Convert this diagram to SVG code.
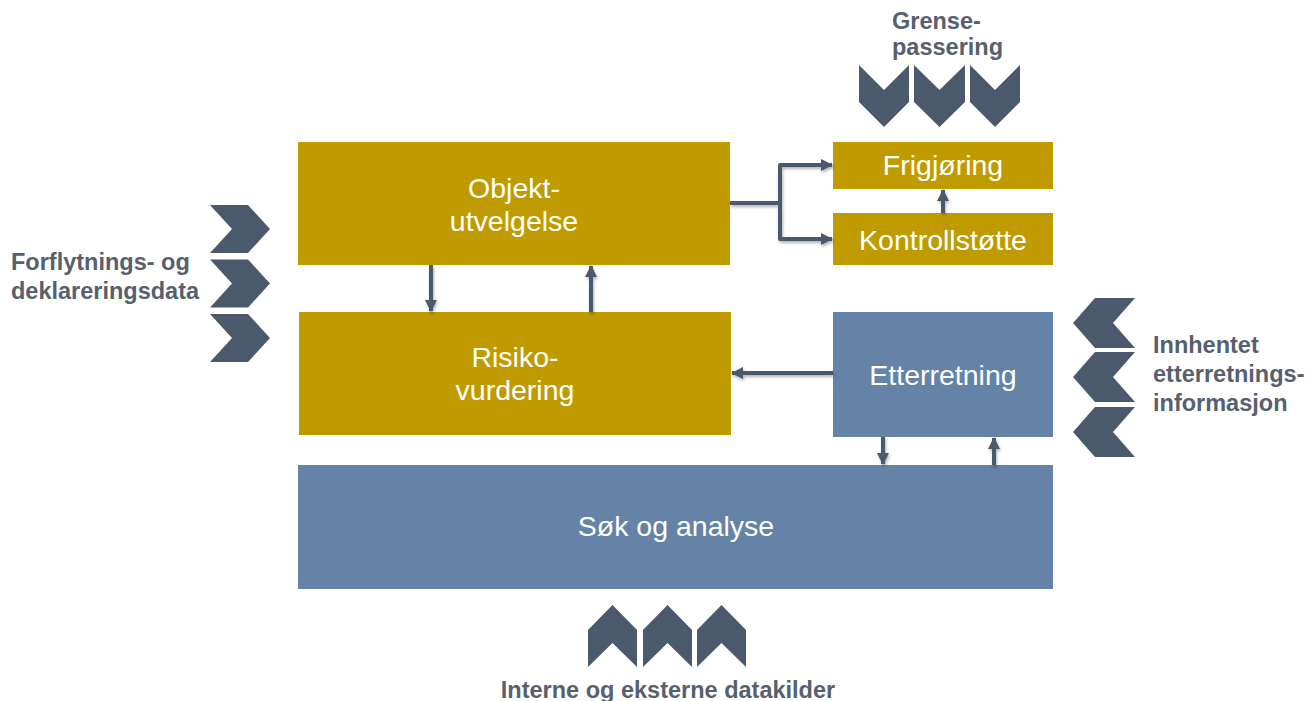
<svg xmlns="http://www.w3.org/2000/svg" width="1309" height="701" viewBox="0 0 1309 701">
<style>
.gold{fill:#BF9B00}
.blue{fill:#6483A6}
.chev{fill:#4A5A6C}
.bt{font-family:"Liberation Sans",Arial,sans-serif;font-size:28.5px;fill:#FFFFFF;text-anchor:middle}
.lbl{font-family:"Liberation Sans",Arial,sans-serif;font-size:23.5px;font-weight:bold;fill:#56606E}
.con{fill:none;stroke:#4A5A6C;stroke-width:4;stroke-linejoin:round}
</style>
<defs>
<marker id="ah" viewBox="0 0 12 12" refX="11" refY="6" markerWidth="12" markerHeight="12" markerUnits="userSpaceOnUse" orient="auto">
<path d="M0,0 L12,6 L0,12 z" fill="#4A5A6C"/>
</marker>
<filter id="sh" x="-10%" y="-10%" width="130%" height="130%">
<feDropShadow dx="1" dy="2" stdDeviation="1.5" flood-color="#000" flood-opacity="0.3"/>
</filter>
</defs>
<rect width="1309" height="701" fill="#FFFFFF"/>

<g id="objekt">
<rect class="gold" x="298" y="142" width="432" height="123"/>
<text class="bt" x="514" y="198">Objekt-</text>
<text class="bt" x="514" y="231">utvelgelse</text>
</g>
<g id="risiko">
<rect class="gold" x="299" y="312" width="432" height="123"/>
<text class="bt" x="515" y="367">Risiko-</text>
<text class="bt" x="515" y="400">vurdering</text>
</g>
<g id="frigjoring">
<rect class="gold" x="833" y="142" width="220" height="47"/>
<text class="bt" x="943" y="175">Frigjøring</text>
</g>
<g id="kontrollstotte">
<rect class="gold" x="833" y="213" width="220" height="52"/>
<text class="bt" x="943" y="250">Kontrollstøtte</text>
</g>
<g id="etterretning">
<rect class="blue" x="833" y="312" width="220" height="125"/>
<text class="bt" x="943" y="385">Etterretning</text>
</g>
<g id="sok">
<rect class="blue" x="298" y="465" width="755" height="124"/>
<text class="bt" x="676" y="536">Søk og analyse</text>
</g>

<g id="connectors" filter="url(#sh)">
<path class="con" d="M730,203 H780"/>
<path class="con" d="M780,203 V165 H832" marker-end="url(#ah)"/>
<path class="con" d="M780,203 V239 H832" marker-end="url(#ah)"/>
<path class="con" d="M943,213 V190" marker-end="url(#ah)"/>
<path class="con" d="M431,265 V311" marker-end="url(#ah)"/>
<path class="con" d="M591,312 V266" marker-end="url(#ah)"/>
<path class="con" d="M833,373 H732" marker-end="url(#ah)"/>
<path class="con" d="M883,437 V464" marker-end="url(#ah)"/>
<path class="con" d="M994,465 V438" marker-end="url(#ah)"/>
</g>

<g id="grensepassering">
<text class="lbl" x="892" y="29">Grense-</text>
<text class="lbl" x="892" y="55">passering</text>
<path class="chev" d="M859,65 L884,90 L909,65 V102 L884,127 L859,102 z"/>
<path class="chev" d="M914,65 L939.5,90 L965,65 V102 L939.5,127 L914,102 z"/>
<path class="chev" d="M970,65 L995,90 L1020,65 V102 L995,127 L970,102 z"/>
</g>

<g id="forflytning">
<text class="lbl" x="11" y="270">Forflytnings- og</text>
<text class="lbl" x="11" y="299">deklareringsdata</text>
<path class="chev" d="M210,205 H248 L270,229 L248,253 H210 L232,229 z"/>
<path class="chev" d="M210,259.5 H248 L270,283.5 L248,307.5 H210 L232,283.5 z"/>
<path class="chev" d="M210,314 H248 L270,338 L248,362 H210 L232,338 z"/>
</g>

<g id="innhentet">
<text class="lbl" x="1153" y="353">Innhentet</text>
<text class="lbl" x="1153" y="382">etterretnings-</text>
<text class="lbl" x="1153" y="411">informasjon</text>
<path class="chev" d="M1135,298 H1095 L1073,323 L1095,348 H1135 L1113,323 z"/>
<path class="chev" d="M1135,352 H1095 L1073,377 L1095,402 H1135 L1113,377 z"/>
<path class="chev" d="M1135,407 H1095 L1073,432 L1095,457 H1135 L1113,432 z"/>
</g>

<g id="datakilder">
<path class="chev" d="M588,630 L612.5,605 L637,630 V667 L612.5,643 L588,667 z"/>
<path class="chev" d="M643,630 L667.5,605 L692,630 V667 L667.5,643 L643,667 z"/>
<path class="chev" d="M697,630 L721.5,605 L746,630 V667 L721.5,643 L697,667 z"/>
<text class="lbl" x="668" y="698" text-anchor="middle">Interne og eksterne datakilder</text>
</g>
</svg>
